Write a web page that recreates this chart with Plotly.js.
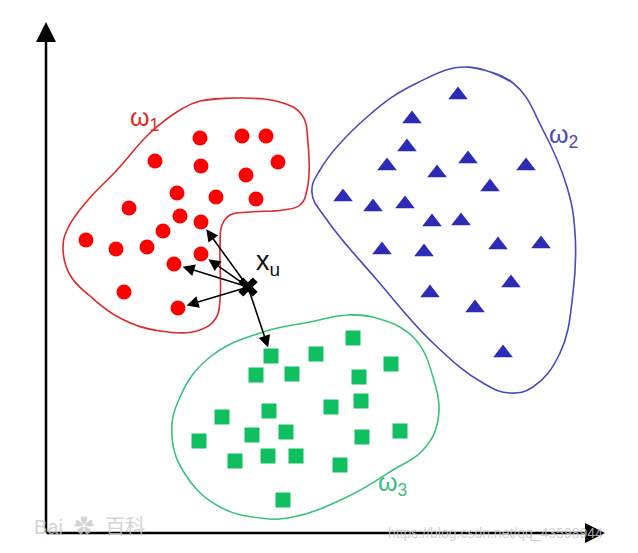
<!DOCTYPE html>
<html>
<head>
<meta charset="utf-8">
<script src="https://cdn.plot.ly/plotly-3.0.1.min.js"></script>
<style>html,body{margin:0;padding:0;background:#fff;}#chart{width:638px;height:553px;}</style>
</head>
<body>
<div id="chart"></div>
<script>
// Class omega_1 (red circles)
const redX = [200,242,266,155,201,278,246,177,216,256,129,180,201,163,86,116,147,201,174,124,178];
const redY = [138,136,136,161,166,162,175,193,197,199,208,216,222,231,240,249,247,254,264,292,308];
// Class omega_2 (blue triangles)
const blueX = [458,412,407,468,387,437,526,490,343,373,405,432,461,382,424,498,541,511,430,475,503];
const blueY = [95,119,147,159,166,173,166,187,197,207,204,222,221,250,252,245,244,283,293,308,353];
// Class omega_3 (green squares)
const greenX = [353,271,316,391,256,292,359,361,331,222,269,199,252,286,362,400,235,268,296,340,283];
const greenY = [338,356,354,364,375,374,377,401,407,417,411,441,435,432,437,431,461,456,456,465,500];
// Unknown sample x_u
const xuX = [248];
const xuY = [287];
// Its 5 nearest neighbours: [class, index]
const neighbours = [["red",12],["red",17],["red",18],["red",20],["green",1]];

// Class region outlines
const redOutX = [200,240,283,302,308,307,300,283,250,230,222,220,220,216,200,160,120,90,70,63,68,88,117,150,180];
const redOutY = [101,98,103,115,143,190,205,210,212,215,225,245,300,318,330,331,318,296,275,248,228,200,170,133,110];
const blueOutX = [467,513,543,567,575,573,560,533,510,483,433,377,327,312,320,367,417];
const blueOutY = [67,83,130,187,233,293,353,387,393,383,343,280,220,193,170,117,83];
const greenOutX = [347,373,413,433,438,423,393,347,293,260,220,187,172,180,210,260,310];
const greenOutY = [315,317,337,377,420,450,470,497,517,518,507,477,437,397,357,333,322];

// Labels
const classLabels = ["ω<sub>1</sub>","ω<sub>2</sub>","ω<sub>3</sub>"];
const classLabelX = [128,547,376];
const classLabelY = [119,136,484];
const xuLabel = "x<sub>u</sub>";

function closed(a){ return a.concat([a[0], a[1]]); }

const C_RED = "#ff0000", C_RED_L = "#dd2a2a";
const C_BLUE = "#2b2bb5", C_BLUE_L = "#4a4ab8";
const C_GREEN = "#10c060", C_GREEN_L = "#3cc080";

const traces = [
  {x: closed(redOutX), y: closed(redOutY), mode:"lines", line:{shape:"spline", smoothing:1.2, color:C_RED_L, width:1.6}},
  {x: closed(blueOutX), y: closed(blueOutY), mode:"lines", line:{shape:"spline", smoothing:1.2, color:C_BLUE_L, width:1.6}},
  {x: closed(greenOutX), y: closed(greenOutY), mode:"lines", line:{shape:"spline", smoothing:1.2, color:C_GREEN_L, width:1.6}},
  {x: redX, y: redY, mode:"markers", marker:{symbol:"circle", size:15, color:C_RED}},
  {x: blueX, y: blueY, mode:"markers", marker:{symbol:"triangle-up", size:17, color:C_BLUE}},
  {x: greenX, y: greenY, mode:"markers", marker:{symbol:"square", size:15, color:C_GREEN}},
  {x: xuX, y: xuY, mode:"markers", marker:{symbol:"x", size:17, color:"#000"}}
];

const sets = {red:[redX,redY], green:[greenX,greenY]};
const annotations = [];
// neighbour arrows
neighbours.forEach(([c,i]) => {
  annotations.push({x: sets[c][0][i], y: sets[c][1][i], ax: xuX[0], ay: xuY[0],
    xref:"x", yref:"y", axref:"x", ayref:"y", showarrow:true, arrowhead:2,
    arrowwidth:1.6, arrowsize:1.5, arrowcolor:"#000", standoff:9, text:""});
});
// axes arrows
annotations.push({x:46, y:22, ax:46, ay:534, xref:"x", yref:"y", axref:"x", ayref:"y",
  showarrow:true, arrowhead:2, arrowwidth:2.5, arrowsize:1.6, arrowcolor:"#000", text:""});
annotations.push({x:605, y:533, ax:45, ay:533, xref:"x", yref:"y", axref:"x", ayref:"y",
  showarrow:true, arrowhead:2, arrowwidth:2.5, arrowsize:1.6, arrowcolor:"#000", text:""});
// class labels
const labelColors = [C_RED_L, C_BLUE_L, C_GREEN_L];
classLabels.forEach((t,k) => {
  annotations.push({x: classLabelX[k], y: classLabelY[k], xref:"x", yref:"y", text:t,
    showarrow:false, xanchor:"left", yanchor:"middle",
    font:{family:"Liberation Sans, Arial, sans-serif", size:25, color:labelColors[k]}});
});
annotations.push({x: 254, y: 263, xref:"x", yref:"y", text: xuLabel, showarrow:false,
  xanchor:"left", yanchor:"middle", font:{family:"Liberation Sans, Arial, sans-serif", size:27, color:"#111"}});
// watermarks
annotations.push({x: 32, y: 527, xref:"x", yref:"y", text:"Bai  ✿  百科", showarrow:false,
  xanchor:"left", yanchor:"middle", font:{family:"Liberation Sans, Noto Sans CJK SC, sans-serif", size:20, color:"rgba(200,200,200,0.8)"}});
annotations.push({x: 386, y: 533, xref:"x", yref:"y", text:"https://blog.csdn.net/qq_43598944", showarrow:false,
  xanchor:"left", yanchor:"middle", font:{family:"Liberation Sans, Arial, sans-serif", size:14, color:"rgba(200,200,200,0.85)"}});

const layout = {
  width:638, height:553, margin:{l:0,r:0,t:0,b:0},
  paper_bgcolor:"#fff", plot_bgcolor:"#fff", showlegend:false,
  xaxis:{range:[0,638], visible:false, fixedrange:true},
  yaxis:{range:[553,0], visible:false, fixedrange:true},
  annotations: annotations, hovermode:false
};
Plotly.newPlot("chart", traces, layout, {staticPlot:true, displayModeBar:false});
</script>
</body>
</html>
